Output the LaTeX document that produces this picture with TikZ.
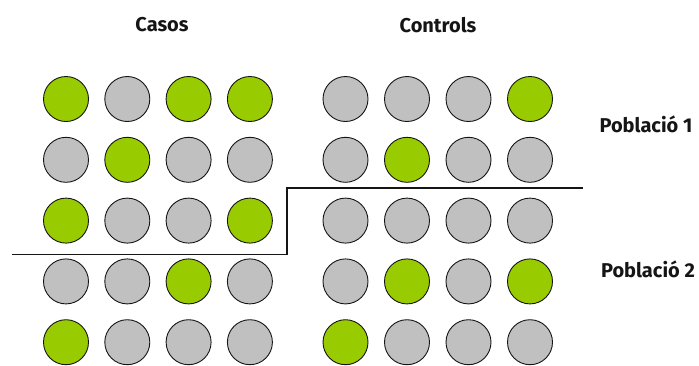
\documentclass[tikz,border=0pt]{standalone}
\usepackage{fontspec}
\setsansfont{Fira Sans}
\usepackage{xcolor}
\usetikzlibrary{positioning}
\definecolor{PGreen}{HTML}{99CC00}
\definecolor{PGray}{HTML}{C0C0C0}
\definecolor{PInk}{HTML}{151515}
\tikzset{
  dot/.style={circle, draw=PInk, line width=0.9pt, minimum size=45pt, inner sep=0pt},
  head/.style={font=\sffamily\bfseries\fontsize{20}{24}\selectfont, text=PInk},
  split/.style={draw=PInk, line width=1.3pt}
}

\begin{document}
\begin{tikzpicture}[x=1pt, y=-1pt, every node/.style={align=center}]
\useasboundingbox (0,0) rectangle (699,365);
% headers
\node[head] (casos) at (162,25) {Casos};
\node[head] (controls) at (438,25) {Controls};
% cases grid (1 = green)
\foreach \i/\row in {1/{1,0,1,1}, 2/{0,1,0,0}, 3/{1,0,0,1}, 4/{0,0,1,0}, 5/{1,0,0,0}}{
  \foreach \v [count=\j] in \row {
    \pgfmathsetmacro{\x}{66 + (\j-1)*61.3}
    \pgfmathsetmacro{\y}{99 + (\i-1)*60.8}
    \ifnum\v=1 \def\fc{PGreen}\else\def\fc{PGray}\fi
    \node[dot, fill=\fc] (cas-\i-\j) at (\x,\y) {};
  }
}
% controls grid
\foreach \i/\row in {1/{0,0,0,1}, 2/{0,1,0,0}, 3/{0,0,0,0}, 4/{0,1,0,1}, 5/{1,0,0,0}}{
  \foreach \v [count=\j] in \row {
    \pgfmathsetmacro{\x}{345.5 + (\j-1)*61.5}
    \pgfmathsetmacro{\y}{99 + (\i-1)*60.8}
    \ifnum\v=1 \def\fc{PGreen}\else\def\fc{PGray}\fi
    \node[dot, fill=\fc] (con-\i-\j) at (\x,\y) {};
  }
}
% border between populations
\coordinate (sepA) at (12,254.5);
\coordinate (sepB) at (287,254.5);
\coordinate (sepC) at (287,188);
\coordinate (sepD) at (583,188);
\draw[split] (sepA) -- (sepB) -- (sepC) -- (sepD);
% population labels
\node[head] (pob1) at (646,124) {Població 1};
\node[head] (pob2) at (648,269) {Població 2};
\end{tikzpicture}
\end{document}
